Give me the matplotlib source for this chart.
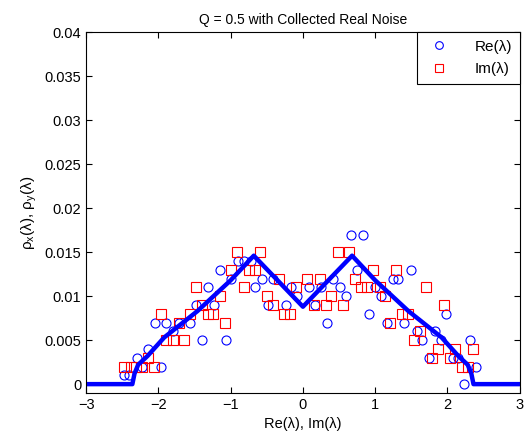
import numpy as np
import matplotlib
matplotlib.use('Agg')
import matplotlib.pyplot as plt

plt.rcParams['font.family'] = ['Liberation Sans', 'DejaVu Sans']
plt.rcParams['mathtext.fontset'] = 'custom'
plt.rcParams['mathtext.rm'] = 'Liberation Sans'
plt.rcParams['mathtext.it'] = 'Liberation Sans'

# eigenvalue histogram, real parts
re_x = [-2.47, -2.40, -2.30, -2.22, -2.15, -2.05, -1.97, -1.90, -1.80, -1.72,
        -1.56, -1.48, -1.39, -1.31, -1.23, -1.15, -1.07, -0.99, -0.90, -0.82,
        -0.72, -0.66, -0.56, -0.49, -0.41, -0.23, -0.16, -0.08, 0.09, 0.17,
        0.25, 0.33, 0.42, 0.51, 0.59, 0.66, 0.75, 0.83, 0.91, 1.00,
        1.08, 1.16, 1.24, 1.32, 1.40, 1.49, 1.58, 1.65, 1.75, 1.83,
        1.91, 1.98, 2.07, 2.15, 2.23, 2.31, 2.39]
re_y = [0.001, 0.001, 0.003, 0.002, 0.004, 0.007, 0.002, 0.007, 0.006, 0.007,
        0.007, 0.009, 0.005, 0.011, 0.009, 0.013, 0.005, 0.012, 0.014, 0.014,
        0.014, 0.011, 0.012, 0.009, 0.012, 0.009, 0.011, 0.010, 0.011, 0.009,
        0.011, 0.007, 0.012, 0.011, 0.010, 0.017, 0.013, 0.017, 0.008, 0.011,
        0.010, 0.007, 0.012, 0.012, 0.007, 0.013, 0.006, 0.005, 0.003, 0.006,
        0.005, 0.008, 0.003, 0.003, 0.000, 0.005, 0.002]

# imaginary parts
im_x = [-2.47, -2.38, -2.31, -2.23, -2.15, -2.06, -1.97, -1.90, -1.80, -1.72,
        -1.65, -1.56, -1.48, -1.40, -1.32, -1.24, -1.15, -1.08, -0.99, -0.91,
        -0.82, -0.75, -0.67, -0.59, -0.50, -0.42, -0.33, -0.26, -0.18, -0.10,
        0.06, 0.16, 0.23, 0.32, 0.39, 0.48, 0.56, 0.64, 0.72, 0.80,
        0.89, 0.97, 1.06, 1.14, 1.21, 1.29, 1.37, 1.46, 1.54, 1.62,
        1.70, 1.78, 1.87, 1.95, 2.03, 2.10, 2.20, 2.29, 2.35]
im_y = [0.002, 0.002, 0.002, 0.002, 0.003, 0.002, 0.008, 0.005, 0.005, 0.007,
        0.005, 0.008, 0.011, 0.009, 0.008, 0.008, 0.010, 0.007, 0.013, 0.015,
        0.011, 0.013, 0.013, 0.015, 0.010, 0.009, 0.012, 0.008, 0.008, 0.011,
        0.012, 0.009, 0.012, 0.009, 0.010, 0.015, 0.009, 0.015, 0.012, 0.011,
        0.011, 0.013, 0.011, 0.010, 0.007, 0.013, 0.008, 0.008, 0.005, 0.006,
        0.011, 0.003, 0.004, 0.009, 0.003, 0.004, 0.002, 0.002, 0.004]

# theoretical density
th_x = [-3.0, -2.36, -2.33, -2.28, -2.15, -1.92, -1.46, -1.0, -0.68, 0.0,
        0.68, 1.0, 1.46, 1.92, 2.15, 2.28, 2.33, 2.36, 3.0]
th_y = [0.0, 0.0, 0.0012, 0.0022, 0.0032, 0.0053, 0.0083, 0.0118, 0.0146, 0.0088,
        0.0146, 0.0118, 0.0083, 0.0053, 0.0032, 0.0022, 0.0012, 0.0, 0.0]

fig = plt.figure(figsize=(5.25, 4.41), dpi=100)
ax = fig.add_axes([0.164, 0.109, 0.826, 0.818])

ax.plot(re_x, re_y, 'o', mfc='none', mec='blue', ms=6.5, mew=0.8, label='Re(λ)')
ax.plot(im_x, im_y, 's', mfc='none', mec='red', ms=6.5, mew=0.8, label='Im(λ)')
ax.plot(th_x, th_y, '-', color='blue', lw=3.2)

ax.set_xlim([-3, 3])
ax.set_ylim([-0.001, 0.04])
ax.set_xticks(np.arange(-3, 4, 1))
ax.set_yticks(np.arange(0, 0.0401, 0.005))
ax.set_yticklabels(['0', '0.005', '0.01', '0.015', '0.02', '0.025', '0.03', '0.035', '0.04'])
ax.tick_params(direction='in', top=True, right=True, labelsize=10.5, length=4)

ax.set_title('Q = 0.5 with Collected Real Noise', fontsize=10)
ax.set_xlabel('Re(λ), Im(λ)', fontsize=10.5)
ax.set_ylabel(r'ρ$_x$(λ), ρ$_y$(λ)', fontsize=11)

leg = ax.legend(loc='upper right', fontsize=11, fancybox=False, framealpha=1,
                edgecolor='black', borderaxespad=0, handletextpad=1.3,
                labelspacing=0.55, markerscale=0.85, borderpad=0.5)
leg.get_frame().set_linewidth(0.8)

fig.savefig('out.png', dpi=100)
